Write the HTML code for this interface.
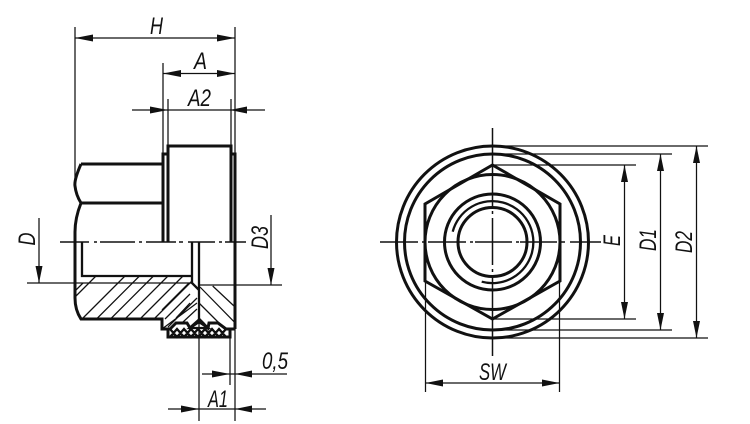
<!DOCTYPE html>
<html><head><meta charset="utf-8"><style>
html,body{margin:0;padding:0;background:#fff;width:750px;height:424px;overflow:hidden}
svg{display:block}
text{font-family:"Liberation Sans Narrow","Liberation Sans",sans-serif;font-style:italic;font-size:24px;fill:#111}
.k{stroke:#111;fill:none;stroke-width:3}
.m{stroke:#111;fill:none;stroke-width:2.3}
.t{stroke:#111;fill:none;stroke-width:1.25}
.a{fill:#111;stroke:none}
</style></head><body>
<svg width="750" height="424" viewBox="0 0 750 424" xmlns="http://www.w3.org/2000/svg">
<!-- hatching -->
<path class="t" d="M82 319L118 283L125 276M96.500 319L139.500 276M110.500 319L153.500 276M125 319L168 276M140 319L183 276M154 319L192 281M76 296L89 283L96 276M76 290L83 283M165 319L190 294M162 329L197 303M168 327L197 298M176 318L190 303M183 322L197 309M189 283L162 310M200 287L234 321.700M212.700 286L234 306M199 303L220 324M199 318L205 324"/>
<!-- left view outlines -->
<path class="t" d="M75 27V180M163 63V154M168 99V146M231 99V146M235 27V154"/>
<path class="k" d="M81 164H163M81 203H163M81 164Q74 180 75 186Q76 195 81 203M81 203Q75 218 75 232V298Q75 310 81 319H162V329H170L176 323H187L190 328L199 320L208 328L209 323H218L226 329H235"/>
<path class="k" d="M168 242V146H231V242M163 242V154H168M231 154H235V329"/>
<path class="m" d="M82 242V276H192M192 242V283L199 290M199 242V290V320"/>
<path class="t" d="M27 283H192M199 285H282"/>
<!-- knurl band -->
<path class="k" d="M168 329V337H230V329"/>
<path class="m" d="M170 337L177 329L184 337L191 329L198 337L205 329L212 337L219 329L226 337M170 329L177 337L184 329L191 337L198 329L205 337L212 329L219 337L226 329"/>
<path class="m" d="M190 328L199 322L208 328Z"/>
<!-- extension below -->
<path class="t" d="M199 320V421M235 329V421M230 337V385"/>
<!-- centre line left -->
<path class="t" style="stroke-width:1.5" d="M60 242H89M94 242H97M100 242H135M139 242H142M146 242H176M179 242H183M188 242H215M219 242H222M225 242H246"/>
<!-- dim lines left -->
<path class="t" d="M75 38H235M163 73.500H235M132 110H265M202 374H287M168 409H266M39 218V283M271 215V285"/>
<polygon class="a" points="75,38 93,34.500 93,41.500"/><polygon class="a" points="235,38 217,34.500 217,41.500"/>
<polygon class="a" points="163,73.500 181,70 181,77"/><polygon class="a" points="235,73.500 217,70 217,77"/>
<polygon class="a" points="168,110 150,106.500 150,113.500"/><polygon class="a" points="230,110 247,106.500 247,113.500"/>
<polygon class="a" points="230,374 212,370.500 212,377.500"/><polygon class="a" points="235,374 252,370.500 252,377.500"/>
<polygon class="a" points="199,409 181,405.500 181,412.500"/><polygon class="a" points="235,409 252,405.500 252,412.500"/>
<polygon class="a" points="39,283 35.500,266 42.500,266"/><polygon class="a" points="271,285 267.500,268 274.500,268"/>
<!-- labels left -->
<text x="150" y="34" textLength="13" lengthAdjust="spacingAndGlyphs">H</text>
<text x="194" y="69" textLength="13" lengthAdjust="spacingAndGlyphs">A</text>
<text x="188" y="106" textLength="23" lengthAdjust="spacingAndGlyphs">A2</text>
<text x="262" y="369" textLength="26" lengthAdjust="spacingAndGlyphs">0,5</text>
<text x="208" y="407" textLength="20" lengthAdjust="spacingAndGlyphs">A1</text>
<text transform="translate(35 245.500) rotate(-90)" textLength="13" lengthAdjust="spacingAndGlyphs">D</text>
<text transform="translate(268 249) rotate(-90)" textLength="23" lengthAdjust="spacingAndGlyphs">D3</text>
<!-- right view -->
<circle class="k" cx="492.500" cy="242" r="96"/>
<circle class="k" cx="492.500" cy="242" r="88"/>
<circle class="k" cx="492.500" cy="242" r="67.500"/>
<polygon class="k" points="492.500,165 560,204 560,281 492.500,319 425,281 425,204"/>
<circle class="k" cx="492.500" cy="242" r="48"/>
<circle class="k" cx="492.500" cy="242" r="34.500"/>
<path class="m" d="M452.700 231.700A41 41 0 1 1 481.700 281.700"/>
<path class="t" style="stroke-width:1.5" d="M380 242H418M422 242H425M428 242H466M470 242H473M475 242H512M516 242H519M520 242H557M561 242H565M570 242H601M492.500 128V207M492.500 211V214M492.500 218V265M492.500 269V272M492.500 276V356"/>
<!-- dims right -->
<path class="t" d="M492 146H708M492 154H672M492 165H636M492 319H636M492 330H672M492 338H708M624.500 165V319M660.500 154V330M696.500 146V338M425.500 281V392M559.500 281V392M425.500 383H559.500"/>
<polygon class="a" points="624.500,165 621,182 628,182"/><polygon class="a" points="624.500,319 621,302 628,302"/>
<polygon class="a" points="660.500,154 657,171 664,171"/><polygon class="a" points="660.500,330 657,313 664,313"/>
<polygon class="a" points="696.500,146 693,163 700,163"/><polygon class="a" points="696.500,338 693,321 700,321"/>
<polygon class="a" points="425.500,383 443,379.500 443,386.500"/><polygon class="a" points="559.500,383 542,379.500 542,386.500"/>
<text x="479" y="380" textLength="27" lengthAdjust="spacingAndGlyphs">SW</text>
<text transform="translate(620 246) rotate(-90)" textLength="11" lengthAdjust="spacingAndGlyphs">E</text>
<text transform="translate(656 251) rotate(-90)" textLength="22" lengthAdjust="spacingAndGlyphs">D1</text>
<text transform="translate(692 253) rotate(-90)" textLength="22" lengthAdjust="spacingAndGlyphs">D2</text>
</svg>
</body></html>
